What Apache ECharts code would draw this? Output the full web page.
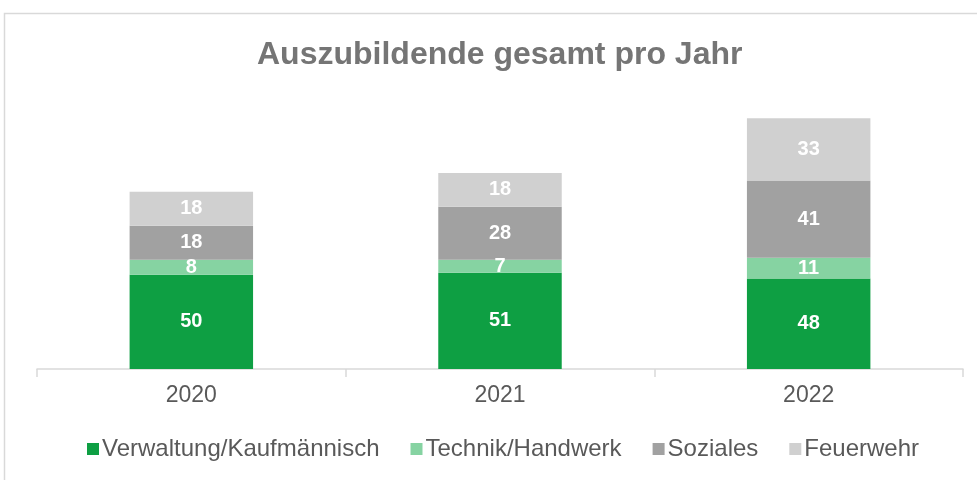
<!DOCTYPE html>
<html><head><meta charset="utf-8">
<script src="https://cdn.jsdelivr.net/npm/echarts@6/dist/echarts.min.js"></script>
<style>html,body{margin:0;padding:0;background:#fff}#c{width:977px;height:480px}</style>
</head><body><div id="c"></div>
<script>
const categories = ['2020', '2021', '2022'];
const verwaltung = [50, 51, 48];
const technik = [8, 7, 11];
const soziales = [18, 28, 41];
const feuerwehr = [18, 18, 33];
const seriesNames = ['Verwaltung/Kaufmännisch', 'Technik/Handwerk', 'Soziales', 'Feuerwehr'];
const colors = ['#0E9F43', '#86D3A2', '#A1A1A1', '#D0D0D0'];
const FONT = '"Liberation Sans", Arial, sans-serif';

const chart = echarts.init(document.getElementById('c'));
const data = [verwaltung, technik, soziales, feuerwehr];
chart.setOption({
  animation: false,
  textStyle: { fontFamily: FONT },
  color: colors,
  graphic: [{
    type: 'rect', shape: { x: 4.5, y: 13.5, width: 1000, height: 500 },
    style: { fill: 'none', stroke: '#D9D9D9', lineWidth: 1.5 }, silent: true, z: -1
  }],
  title: {
    text: 'Auszubildende gesamt pro Jahr', left: 252, top: 34,
    textStyle: { fontFamily: FONT, fontSize: 32, fontWeight: 'bold', color: '#757575' }
  },
  legend: {
    bottom: 14, left: 82, itemWidth: 12, itemHeight: 12, itemGap: 31, icon: 'rect',
    textStyle: { fontFamily: FONT, fontSize: 24, color: '#595959', padding: [0, 0, 0, -2] },
    data: seriesNames
  },
  grid: { left: 37, right: 14, top: 105, bottom: 111 },
  xAxis: {
    type: 'category', data: categories,
    axisLine: { lineStyle: { color: '#D9D9D9', width: 1.5 } },
    axisTick: { show: true, length: 8, lineStyle: { color: '#D9D9D9', width: 1.5 } },
    axisLabel: { fontFamily: FONT, fontSize: 23, color: '#595959', margin: 15 }
  },
  yAxis: { type: 'value', min: 0, max: 140, show: false, splitLine: { show: false } },
  series: data.map((d, i) => ({
    name: seriesNames[i], type: 'bar', stack: 'total', data: d, barWidth: '40%',
    label: { show: true, position: 'inside', color: '#fff', fontWeight: 'bold', fontSize: 20, fontFamily: FONT }
  }))
});
</script></body></html>
